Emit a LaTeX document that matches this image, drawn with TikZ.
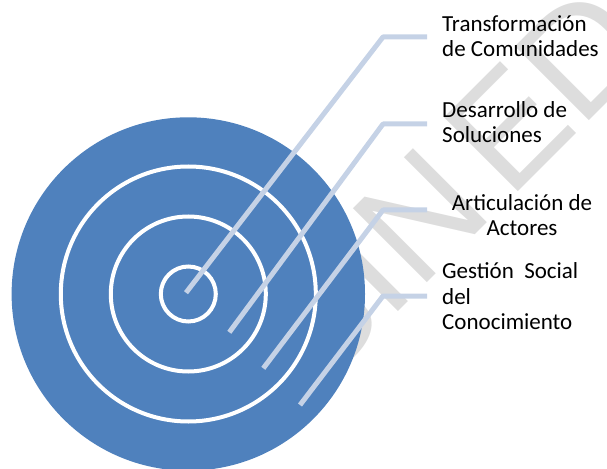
\documentclass[tikz,border=0pt]{standalone}
\usepackage{fontspec}
\setmainfont{Carlito}
\newfontfamily\wmfont{Liberation Sans}
\definecolor{tblue}{RGB}{79,129,189}
\definecolor{leadblue}{RGB}{197,210,230}
\definecolor{wmgray}{RGB}{221,221,221}
\begin{document}
\begin{tikzpicture}[x=1bp,y=-1bp,
  ringline/.style={draw=white, line width=4bp},
  leader/.style={draw=leadblue, line width=5bp, line join=round},
  lbl/.style={inner sep=0pt, font=\fontsize{23bp}{25bp}\selectfont, align=left, anchor=base west},
  wm/.style={inner sep=0pt, text=wmgray, font=\wmfont\fontsize{152bp}{152bp}\selectfont, rotate=45, anchor=base west}]
\useasboundingbox (0,0) rectangle (607,469);
% watermark
\node[wm] (wm1) at (317,393) {SIN};
\node[wm] (wm2) at (509,201) {EDITAR};
% target
\coordinate (c) at (188.3,294);
\fill[tblue] (c) circle (176.7);
\draw[ringline] (c) circle (127.5) (c) circle (77.5) (c) circle (27.5);
% labels (anchored at the baseline of their last line)
\node[lbl] (t1) at (442,57) {Transformación\\de Comunidades};
\node[lbl] (t2) at (442,143) {Desarrollo de\\Soluciones};
\node[lbl, align=center, anchor=base] (t3) at (522,236) {Articulación de\\Actores};
\node[lbl] (t4) at (442,329) {Gestión\ \ Social\\del\\Conocimiento};
% leader lines
\coordinate (s1) at (186,292.7);
\coordinate (k1) at (383,37);
\coordinate (e1) at (427,37);
\coordinate (s2) at (229.3,332.3);
\coordinate (k2) at (383,124);
\coordinate (e2) at (427,124);
\coordinate (s3) at (263.3,368.3);
\coordinate (k3) at (383,210);
\coordinate (e3) at (427,210);
\coordinate (s4) at (300,405);
\coordinate (k4) at (383,296);
\coordinate (e4) at (427,296);
\draw[leader] (s1) -- (k1) -- (e1);
\draw[leader] (s2) -- (k2) -- (e2);
\draw[leader] (s3) -- (k3) -- (e3);
\draw[leader] (s4) -- (k4) -- (e4);
\end{tikzpicture}
\end{document}
